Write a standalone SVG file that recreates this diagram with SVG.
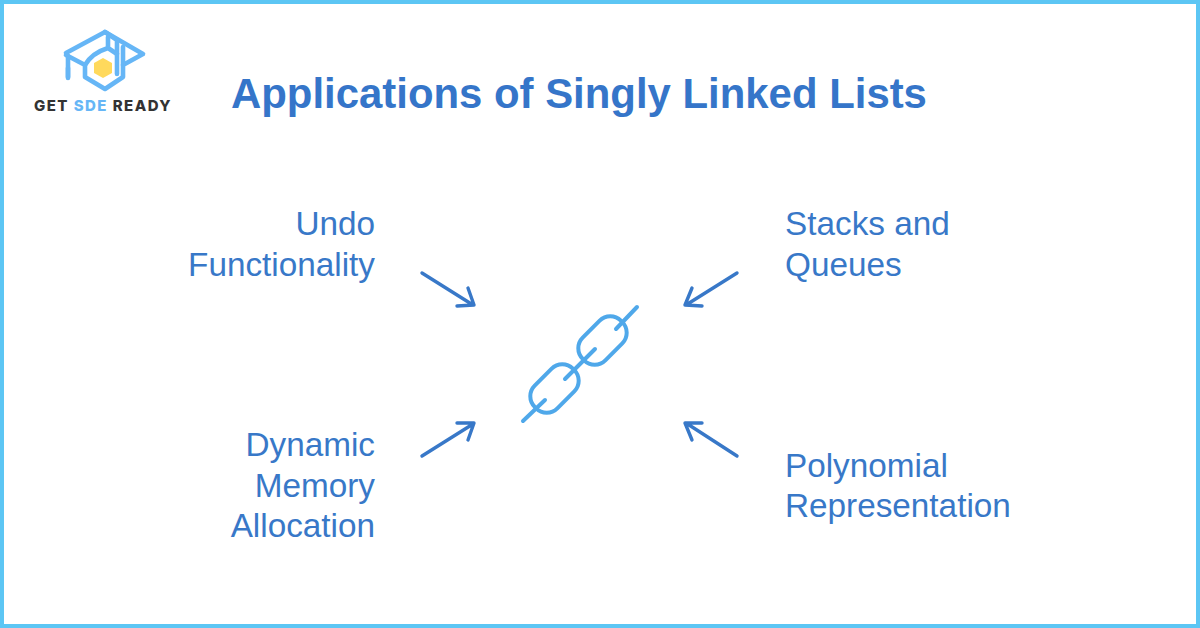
<svg xmlns="http://www.w3.org/2000/svg" width="1200" height="628" viewBox="0 0 1200 628">
<style>
.t{font-family:"Liberation Sans",Arial,sans-serif;font-size:33.300px;fill:#3878c8}
.e{text-anchor:end}
.arrow{fill:none;stroke:#3878c8;stroke-width:3.4;stroke-linecap:round;stroke-linejoin:round}
.chain{fill:none;stroke:#4fa8ea;stroke-width:4;stroke-linecap:round}
.logo{fill:none;stroke:#66b6f6;stroke-width:4.600;stroke-linecap:round;stroke-linejoin:round}
.lt{font-family:Inter,"Liberation Sans",sans-serif;font-size:15px;font-weight:800;letter-spacing:1.450px;fill:#333}
</style>
<rect width="1200" height="628" fill="#fff"/>
<rect x="2" y="2" width="1196" height="624" fill="none" stroke="#5cc6f4" stroke-width="4"/>
<g id="logo">
<path class="logo" d="M66 53L105 32L143 54L123 65V77L105 89L85 77V65L66 55"/>
<path class="logo" d="M105 32L117 40V74"/>
<path class="logo" d="M123 47V65"/>
<path class="logo" d="M85 65Q92 53 108 48M108 37V48L117 54"/>
<path class="logo" d="M68 56V78"/>
<path class="logo" stroke-width="6" d="M68 68V77"/>
<polygon points="103,58 112,63 112,73 103,78 94,73 94,63" fill="#ffd95c"/>
<text class="lt" x="34" y="111">GET <tspan fill="#66b6f6">SDE</tspan> READY</text>
</g>
<text id="title" x="231" y="107.500" font-family="Liberation Sans,Arial,sans-serif" font-size="41.900" font-weight="700" fill="#3575c9">Applications of Singly Linked Lists</text>
<g id="undo"><text class="t e" x="375" y="234.700">Undo</text><text class="t e" x="375" y="275.700">Functionality</text></g>
<g id="stacks"><text class="t" x="785" y="234.700">Stacks and</text><text class="t" x="785" y="275.700">Queues</text></g>
<g id="dynamic"><text class="t e" x="375" y="455.700">Dynamic</text><text class="t e" x="375" y="496.700">Memory</text><text class="t e" x="375" y="536.700">Allocation</text></g>
<g id="polynomial"><text class="t" x="785" y="476.700">Polynomial</text><text class="t" x="785" y="516.700">Representation</text></g>
<g id="chain">
<path class="chain" d="M523 421L545 400M565 379L595 349M616 329L637 307"/>
<rect class="chain" x="527.500" y="372.500" width="54" height="32" rx="15" transform="rotate(-45 554.500 388.500)"/>
<rect class="chain" x="575.500" y="324.500" width="54" height="32" rx="15" transform="rotate(-45 602.500 340.500)"/>
</g>
<g id="connectors">
<path class="arrow" d="M422 273L473 305M457 306L474 305L468 288"/>
<path class="arrow" d="M737 273L686 305M702 306L685 305L692 288"/>
<path class="arrow" d="M422 456L473 424M457 423L474 423L468 440"/>
<path class="arrow" d="M737 456L686 423M702 423L685 423L692 440"/>
</g>
</svg>
